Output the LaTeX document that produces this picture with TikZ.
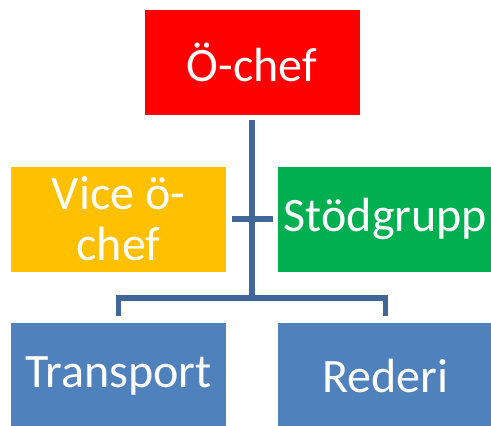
\documentclass[tikz,border=0pt]{standalone}
\usepackage{fontspec}
\setmainfont{Carlito}
\definecolor{bossred}{RGB}{255,0,0}
\definecolor{viceyellow}{RGB}{255,192,0}
\definecolor{supportgreen}{RGB}{0,176,80}
\definecolor{unitblue}{RGB}{79,129,189}
\definecolor{linkblue}{RGB}{65,103,154}
\tikzset{
  orgbox/.style={rectangle, draw=none, minimum width=215pt, minimum height=105pt,
    inner sep=0pt, text=white, align=center, font=\fontsize{48}{51}\selectfont},
  link/.style={draw=linkblue, line width=5.5pt}
}
\begin{document}
\begin{tikzpicture}[x=1pt, y=-1pt]
  \useasboundingbox (0,0) rectangle (491,426);
  % boxes
  \node[orgbox, fill=bossred]     (boss) at (252,62.5)   {Ö-chef};
  \node[orgbox, fill=viceyellow]  (vice) at (118.5,219)  {Vice ö-\\chef};
  \node[orgbox, fill=supportgreen](stod) at (385.5,219)  {Stödgrupp};
  \node[orgbox, fill=unitblue]    (tr)   at (118.5,375.5){Transport};
  \node[orgbox, fill=unitblue]    (red)  at (385.5,375.5){Rederi};
  % connectors
  \coordinate (hub) at (252,298);
  \draw[link] ([yshift=-5pt]boss.south) -- (hub);
  \draw[link] ([yshift=6.5pt]tr.north) |- (hub) -| ([yshift=6.5pt]red.north);
  \draw[link] ([xshift=6pt]vice.east) -- ([xshift=-5pt]stod.west);
\end{tikzpicture}
\end{document}
